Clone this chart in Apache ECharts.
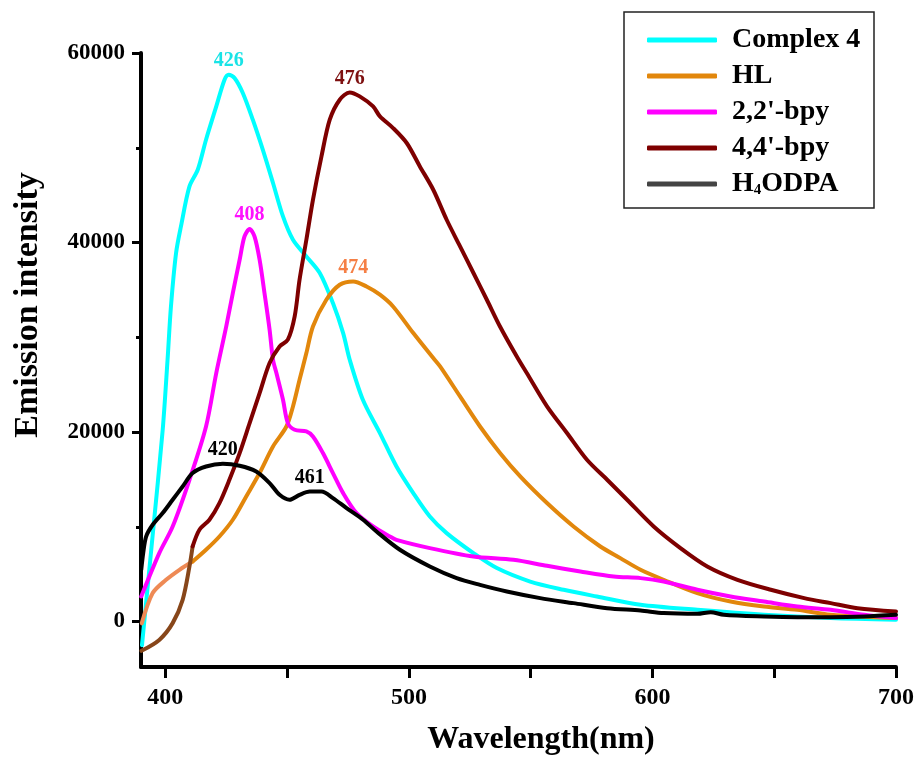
<!DOCTYPE html>
<html>
<head>
<meta charset="utf-8">
<title>Emission spectra</title>
<script src="https://cdn.jsdelivr.net/npm/echarts@6/dist/echarts.min.js"></script>
<style>
  html, body { margin: 0; padding: 0; background: #fff; }
  #chart { width: 920px; height: 758px; }
</style>
</head>
<body>
<div id="chart"></div>
<script>
// Emission spectra (intensity vs wavelength)
const seriesNames = ['Complex 4', 'HL', "2,2'-bpy", "4,4'-bpy", 'H4ODPA'];

const complex4X = [390.4, 394.8, 398.9, 400.9, 402.3, 404.4, 406.4, 409.9, 413.3, 416.7, 420.9, 424.3, 426.0, 428.4, 431.8, 435.9, 440.0, 444.2, 448.3, 452.4, 457.9, 463.4, 468.8, 473.0, 475.7, 481.1, 488.1, 494.9, 501.8, 508.6, 515.5, 526.5, 536.1, 549.8, 563.5, 577.2, 595.1, 618.4, 645.8, 673.2, 700];
const complex4Y = [-2500, 9150, 20200, 27620, 33250, 38890, 41700, 45920, 47680, 50850, 54360, 57180, 57710, 57360, 55780, 52960, 49800, 46280, 42750, 40290, 38530, 36780, 33610, 30440, 27630, 23400, 19890, 16360, 13550, 11080, 9330, 7220, 5640, 4220, 3350, 2640, 1760, 1230, 710, 360, 180];

// HL: onset part (lighter tone) and main band
const hlOnsetX = [390.3, 394.8, 400.3, 405.8, 411.2];
const hlOnsetY = [-200, 3000, 4400, 5460, 6330];
const hlX = [411.2, 416.7, 422.2, 427.7, 433.2, 438.7, 444.2, 449.7, 452.4, 455.1, 457.9, 460.6, 466.1, 471.6, 477.1, 482.6, 488.1, 493.5, 501.8, 510.0, 512.8, 521.0, 529.2, 537.4, 545.7, 556.7, 567.6, 578.6, 586.8, 595.1, 604.6, 618.4, 632.1, 645.8, 659.5, 673.2, 700];
const hlY = [6330, 7570, 8970, 10740, 13200, 15670, 18470, 20580, 22700, 25510, 28330, 31140, 33960, 35540, 35890, 35360, 34490, 33250, 30440, 27800, 26920, 23750, 20580, 17780, 15310, 12500, 10030, 7920, 6690, 5460, 4400, 3000, 2110, 1580, 1240, 710, 360];

const bpy22X = [390.1, 397.5, 403.0, 409.9, 416.7, 420.9, 425.0, 427.7, 430.5, 432.5, 434.6, 436.6, 438.7, 440.7, 442.8, 444.2, 445.6, 448.3, 450.3, 453.1, 457.9, 460.6, 464.7, 468.8, 473.0, 478.5, 485.3, 492.2, 494.9, 508.6, 526.5, 542.9, 556.7, 570.4, 584.1, 595.1, 604.6, 618.4, 632.1, 645.8, 659.5, 673.2, 687.0, 700];
const bpy22Y = [2640, 7220, 10030, 14960, 20580, 26220, 31140, 34670, 38180, 40640, 41420, 40640, 38180, 34670, 30790, 27630, 26220, 23400, 20940, 20240, 20060, 19530, 17780, 15670, 13550, 11440, 10030, 8970, 8620, 7750, 6860, 6510, 5880, 5280, 4750, 4580, 4220, 3350, 2640, 2110, 1580, 1240, 710, 360];

// 4,4'-bpy: onset part (brown tone) and main band
const bpy44OnsetX = [390.2, 397.5, 403.0, 407.1, 409.9, 411.2];
const bpy44OnsetY = [-3090, -1940, -170, 2290, 5810, 7920];
const bpy44X = [411.2, 414.0, 418.1, 422.2, 426.3, 430.5, 434.6, 438.7, 442.8, 446.9, 450.3, 453.1, 455.1, 457.9, 460.6, 464.1, 467.5, 471.6, 475.7, 479.8, 485.3, 488.1, 493.5, 499.1, 504.5, 510.0, 515.5, 521.0, 526.5, 532.0, 537.4, 544.3, 548.4, 556.7, 564.9, 573.1, 581.4, 589.6, 600.5, 611.5, 622.5, 634.9, 648.6, 662.3, 673.2, 684.2, 700];
const bpy44Y = [7920, 9680, 10740, 12500, 14960, 17780, 20940, 24110, 27280, 29030, 29740, 32200, 36070, 40290, 44510, 49090, 52960, 55070, 55840, 55420, 54360, 53310, 52080, 50500, 48030, 45570, 42400, 39590, 36780, 33960, 31140, 27970, 26220, 22700, 19890, 17070, 14960, 12850, 10030, 7750, 5810, 4400, 3350, 2470, 1940, 1410, 1060];

const h4odpaX = [390.1, 390.9, 392.1, 394.8, 398.9, 403.0, 407.1, 411.2, 416.7, 423.6, 430.5, 437.3, 442.8, 446.9, 451.0, 455.1, 459.3, 464.1, 468.8, 474.4, 481.2, 486.7, 496.3, 508.6, 519.6, 529.2, 540.2, 553.9, 567.6, 581.4, 595.1, 604.6, 618.4, 623.9, 629.3, 645.8, 659.5, 673.2, 687.0, 700];
const h4odpaY = [5460, 7220, 8970, 10210, 11440, 12850, 14250, 15670, 16360, 16650, 16440, 15830, 14610, 13370, 12850, 13370, 13720, 13720, 13030, 11970, 10740, 9500, 7570, 5810, 4580, 3870, 3170, 2470, 1940, 1410, 1160, 890, 810, 990, 710, 530, 460, 460, 530, 710];

// Axis ticks and labels
const xTickValues = [400, 450, 500, 550, 600, 650, 700];
const xLabelValues = [400, 500, 600, 700];
const yMajorValues = [0, 20000, 40000, 60000];
const yMinorValues = [10000, 30000, 50000];

// Peak annotations: text, series, search window (nm)
const peakText = ['426', '474', '408', '476', '420', '461'];
const peakSeries = ['Complex 4', 'HL', "2,2'-bpy", "4,4'-bpy", 'H4ODPA', 'H4ODPA'];
const peakWindow = [[415, 440], [465, 490], [425, 445], [465, 490], [410, 440], [455, 470]];

const SERIF = 'Liberation Serif, Times New Roman, serif';
const colors = {
  'Complex 4': '#00FFFF',
  'HL': '#E2870C',
  "2,2'-bpy": '#FF00FF',
  "4,4'-bpy": '#7E0000',
  'H4ODPA': '#000000'
};
const peakColors = {
  'Complex 4': '#19E3E6',
  'HL': '#F57F45',
  "2,2'-bpy": '#FF10FF',
  "4,4'-bpy": '#7E1010',
  'H4ODPA': '#000000'
};

function zip(xs, ys) { return xs.map((x, i) => [x, ys[i]]); }

function peakOf(xs, ys, lo, hi) {
  let best = null;
  xs.forEach((x, i) => {
    if (x >= lo && x <= hi && (!best || ys[i] > best[1])) best = [x, ys[i]];
  });
  return best;
}

function marksFor(name, xs, ys) {
  const data = [];
  peakSeries.forEach((s, i) => {
    if (s === name) {
      data.push({ coord: peakOf(xs, ys, peakWindow[i][0], peakWindow[i][1]), name: peakText[i] });
    }
  });
  if (!data.length) return undefined;
  return {
    symbol: 'circle',
    symbolSize: 0,
    silent: true,
    data: data,
    label: {
      show: true,
      position: 'top',
      distance: 4,
      formatter: '{b}',
      color: peakColors[name],
      fontFamily: SERIF,
      fontWeight: 'bold',
      fontSize: 20
    }
  };
}

function lineSeries(name, xs, ys, color, z) {
  return {
    name: name,
    type: 'line',
    data: zip(xs, ys),
    showSymbol: false,
    symbol: 'none',
    smooth: 0.3,
    lineStyle: { color: color, width: 4, cap: 'round', join: 'round' },
    itemStyle: { color: color },
    z: z,
    markPoint: marksFor(name, xs, ys)
  };
}

const chart = echarts.init(document.getElementById('chart'), null, { renderer: 'canvas' });

const axisTextBase = { fontFamily: SERIF, fontWeight: 'bold', color: '#000' };

const option = {
  animation: false,
  backgroundColor: '#ffffff',
  grid: { left: 141, right: 24, top: 53, bottom: 91, containLabel: false, outerBoundsMode: 'none' },
  xAxis: [{
    type: 'value',
    min: 390,
    max: 700,
    axisLine: { show: true, onZero: false, lineStyle: { color: '#000', width: 4 } },
    axisTick: { show: true, length: 11, customValues: xTickValues, lineStyle: { color: '#000', width: 3 } },
    axisLabel: Object.assign({ customValues: xLabelValues, margin: 19, fontSize: 24, formatter: v => String(v) }, axisTextBase),
    splitLine: { show: false }
  }],
  yAxis: [{
    type: 'value',
    min: -4800,
    max: 60000,
    axisLine: { show: true, onZero: false, lineStyle: { color: '#000', width: 4 } },
    axisTick: { show: true, length: 9, customValues: yMajorValues, lineStyle: { color: '#000', width: 3 } },
    axisLabel: Object.assign({ customValues: yMajorValues, margin: 16, fontSize: 23, formatter: v => String(v) }, axisTextBase),
    splitLine: { show: false }
  }, {
    type: 'value',
    min: -4800,
    max: 60000,
    position: 'left',
    axisLine: { show: false, onZero: false },
    axisTick: { show: true, length: 5, customValues: yMinorValues, lineStyle: { color: '#000', width: 3 } },
    axisLabel: { show: false },
    splitLine: { show: false }
  }],
  legend: {
    orient: 'vertical',
    left: 647,
    top: 26,
    padding: 0,
    itemWidth: 70,
    itemHeight: 5,
    itemGap: 8,
    itemTextGap: 15,
    icon: 'roundRect',
    selectedMode: false,
    data: [
      { name: 'Complex 4' },
      { name: 'HL' },
      { name: "2,2'-bpy" },
      { name: "4,4'-bpy" },
      { name: 'H4ODPA', itemStyle: { color: '#444444' } }
    ],
    formatter: function (name) {
      return name === 'H4ODPA' ? '{n|H}{s|4}{n|ODPA}' : name;
    },
    textStyle: {
      fontFamily: SERIF,
      fontWeight: 'bold',
      fontSize: 28,
      lineHeight: 28,
      color: '#000',
      padding: [0, 0, 0, 10],
      rich: {
        n: { fontFamily: SERIF, fontWeight: 'bold', fontSize: 28, lineHeight: 28, color: '#000' },
        s: { fontFamily: SERIF, fontWeight: 'bold', fontSize: 15, lineHeight: 15, color: '#000', verticalAlign: 'bottom', padding: [10, 0, 0, 0] }
      }
    }
  },
  graphic: [
    {
      type: 'rect',
      silent: true,
      shape: { x: 624, y: 12, width: 250, height: 196 },
      style: { fill: 'none', stroke: '#222', lineWidth: 1.5 },
      z: 10
    },
    {
      type: 'text',
      silent: true,
      x: 541,
      y: 740,
      style: {
        text: 'Wavelength(nm)',
        fontFamily: SERIF,
        fontWeight: 'bold',
        fontSize: 32,
        fill: '#000',
        align: 'center',
        verticalAlign: 'middle'
      }
    },
    {
      type: 'text',
      silent: true,
      x: 28,
      y: 305,
      rotation: Math.PI / 2,
      style: {
        text: 'Emission intensity',
        fontFamily: SERIF,
        fontWeight: 'bold',
        fontSize: 34,
        fill: '#000',
        align: 'center',
        verticalAlign: 'middle'
      }
    }
  ],
  series: [
    lineSeries('Complex 4', complex4X, complex4Y, colors['Complex 4'], 2),
    lineSeries('HL onset', hlOnsetX, hlOnsetY, '#EE8A55', 3),
    lineSeries('HL', hlX, hlY, colors['HL'], 3),
    lineSeries("2,2'-bpy", bpy22X, bpy22Y, colors["2,2'-bpy"], 4),
    lineSeries("4,4'-bpy onset", bpy44OnsetX, bpy44OnsetY, '#87461A', 5),
    lineSeries("4,4'-bpy", bpy44X, bpy44Y, colors["4,4'-bpy"], 5),
    lineSeries('H4ODPA', h4odpaX, h4odpaY, colors['H4ODPA'], 6)
  ]
};

chart.setOption(option);
</script>
</body>
</html>
